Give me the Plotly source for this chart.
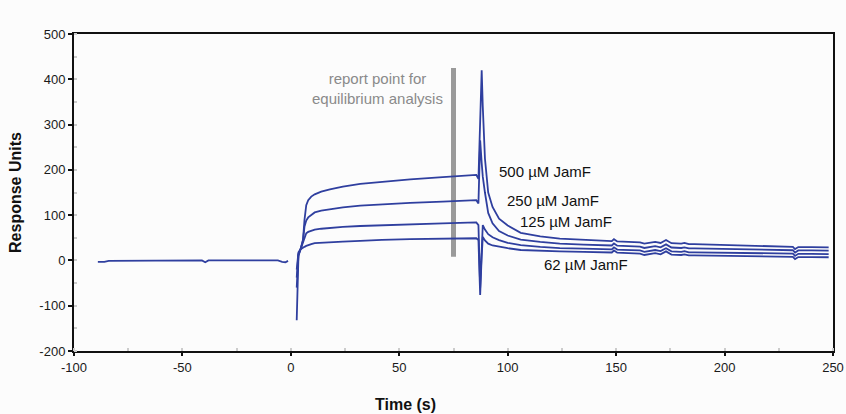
import plotly.graph_objects as go

# Pre-injection baseline (all four sensorgrams overlap here)
base_t = [-89, -86, -84, -70, -55, -41, -39.5, -38, -20, -6, -4, -2.5, -1.3]
base_ru = [-3, -3, -1, -1, 0, 0, -4, 0, 0, 0, -3, -4, -1]

# Injection, association and dissociation phases (shared time grid)
time_s = [2.7, 3.5, 4.5, 5.6, 6.3, 7.1, 8, 9.4, 11, 14, 18, 24, 32, 42, 55, 70,
          85.5, 86.5, 87.3, 88.0, 88.5, 89.5, 91, 93, 96, 100, 106, 115, 124,
          135, 146, 148, 149, 150.5, 153, 161, 163, 165.5, 168, 170.5, 173,
          175.5, 180, 181.5, 183.5, 186, 200, 215, 230, 231.5, 232.5, 234,
          240, 248]

ru_500 = [-132, 10, 25, 45, 90, 122, 133, 141, 146, 152, 157, 163, 169, 174, 179, 184,
          189, 180, 300, 420, 340, 225, 150, 118, 92, 77, 61, 53, 48,
          45, 43, 42.5, 47, 42, 41.5, 40, 37, 39, 41, 38.5, 45,
          38, 37, 38.5, 36, 36, 34, 32, 30, 30, 25, 29.5,
          29.5, 29]
ru_250 = [-60, 12, 25, 45, 75, 88, 95, 101, 106, 110, 113, 117, 121, 124, 127, 130,
          133, 126, 265, 215, 185, 150, 105, 82, 65, 55, 46, 41, 37,
          35, 33.5, 33, 37.5, 32.5, 32, 30.5, 27.5, 29.5, 31.5, 29, 35.5,
          28.5, 27.5, 29, 26.5, 26.5, 25.5, 24, 22.5, 22.5, 17.5, 22,
          22, 21.5]
ru_125 = [-38, 15, 25, 40, 52, 60, 63, 66, 68, 70, 72, 74, 76, 78, 80, 82,
          84, 78, -60, 40, 78, 68, 58, 51, 45, 39, 34, 30, 27,
          26, 25, 24.5, 29, 24, 23.5, 22, 19, 21, 23, 20.5, 27,
          20, 19, 20.5, 18, 18, 17, 16, 15, 15, 10, 14.5,
          14.5, 14]
ru_62 = [-20, 18, 25, 27, 30, 32, 34, 36, 38, 39, 40, 41.5, 43, 45.5, 47, 48,
         49, 45, -76, 10, 52, 44, 37, 33, 30, 27, 23, 21, 20,
         19, 18, 17.5, 22, 17, 16.5, 15, 12, 14, 16, 13.5, 20,
         13, 12, 13.5, 11, 11, 10, 9, 8, 8, 3, 7.5,
         7.5, 7]

series_labels = ["500 µM JamF", "250 µM JamF", "125 µM JamF", "62 µM JamF"]
label_t = [95.2, 98.7, 104.8, 115.6]
label_ru = [197, 131.5, 85, -9]

report_t = 75
report_ru = [8, 425]

x_ticks = [-100, -50, 0, 50, 100, 150, 200, 250]
x_ticktext = ["-100", "-50", "0", "50", "100", "150", "200", "250"]
y_ticks = [-200, -100, 0, 100, 200, 300, 400, 500]
y_ticktext = ["-200", "-100", "0", "100", "200", "300", "400", "500"]

LINE = "#2f3f9f"
FONT = "Liberation Sans, Arial, sans-serif"

fig = go.Figure()

fig.add_trace(go.Scatter(x=base_t, y=base_ru, mode="lines",
                         line=dict(color=LINE, width=1.8), hoverinfo="skip"))
for ys in (ru_500, ru_250, ru_125, ru_62):
    fig.add_trace(go.Scatter(x=time_s, y=ys, mode="lines",
                             line=dict(color=LINE, width=1.8), hoverinfo="skip"))

# grey marker for the equilibrium report point
fig.add_shape(type="line", xref="x", yref="y",
              x0=report_t, x1=report_t, y0=report_ru[0], y1=report_ru[1],
              line=dict(color="#9a9a9a", width=5), layer="below")

fig.add_annotation(x=report_t - 4, y=report_ru[1], xref="x", yref="y",
                   text="report point for<br>equilibrium analysis",
                   showarrow=False, xanchor="right", yanchor="top", align="center",
                   font=dict(family=FONT, size=15, color="#8a8a8a"))

for txt, tx, ty in zip(series_labels, label_t, label_ru):
    fig.add_annotation(x=tx, y=ty, xref="x", yref="y", text=txt,
                       showarrow=False, xanchor="left", yanchor="middle",
                       font=dict(family=FONT, size=15, color="#111111"))

# x title placed below the axis, slightly left of centre
fig.add_annotation(x=(405 - 74) / (846 - 74 - 13), y=-(404 - 351) / (351 - 34),
                   xref="paper", yref="paper", text="<b>Time (s)</b>",
                   showarrow=False, xanchor="center", yanchor="middle",
                   font=dict(family=FONT, size=16, color="#111111"))

fig.update_layout(
    width=846, height=414,
    margin=dict(l=74, r=13, t=34, b=63, autoexpand=False),
    paper_bgcolor="#fcfcfc", plot_bgcolor="#fcfcfc",
    showlegend=False,
    font=dict(family=FONT, size=13, color="#111111"),
)

fig.update_xaxes(range=[-100, 250], tickvals=x_ticks, ticktext=x_ticktext,
                 ticks="outside", ticklen=3, automargin=False,
                 tickwidth=1.5, tickcolor="#111", showline=True, linewidth=2,
                 linecolor="#111", mirror=True, showgrid=False, zeroline=False,
                 tickfont=dict(size=13, color="#1a1a1a"),
                 minor=dict(dtick=25, ticks="inside", ticklen=3, tickcolor="#cccccc"))
fig.update_yaxes(range=[-200, 500], tickvals=y_ticks, ticktext=y_ticktext,
                 ticks="outside", ticklen=4, automargin=False,
                 tickwidth=1.5, tickcolor="#111", showline=True, linewidth=2,
                 linecolor="#111", mirror=True, showgrid=False, zeroline=False,
                 tickfont=dict(size=13, color="#1a1a1a"),
                 title=dict(text="<b>Response Units</b>", standoff=14,
                            font=dict(size=16)),
                 minor=dict(dtick=50, ticks="inside", ticklen=3, tickcolor="#cccccc"))

fig.write_html("out.html")
